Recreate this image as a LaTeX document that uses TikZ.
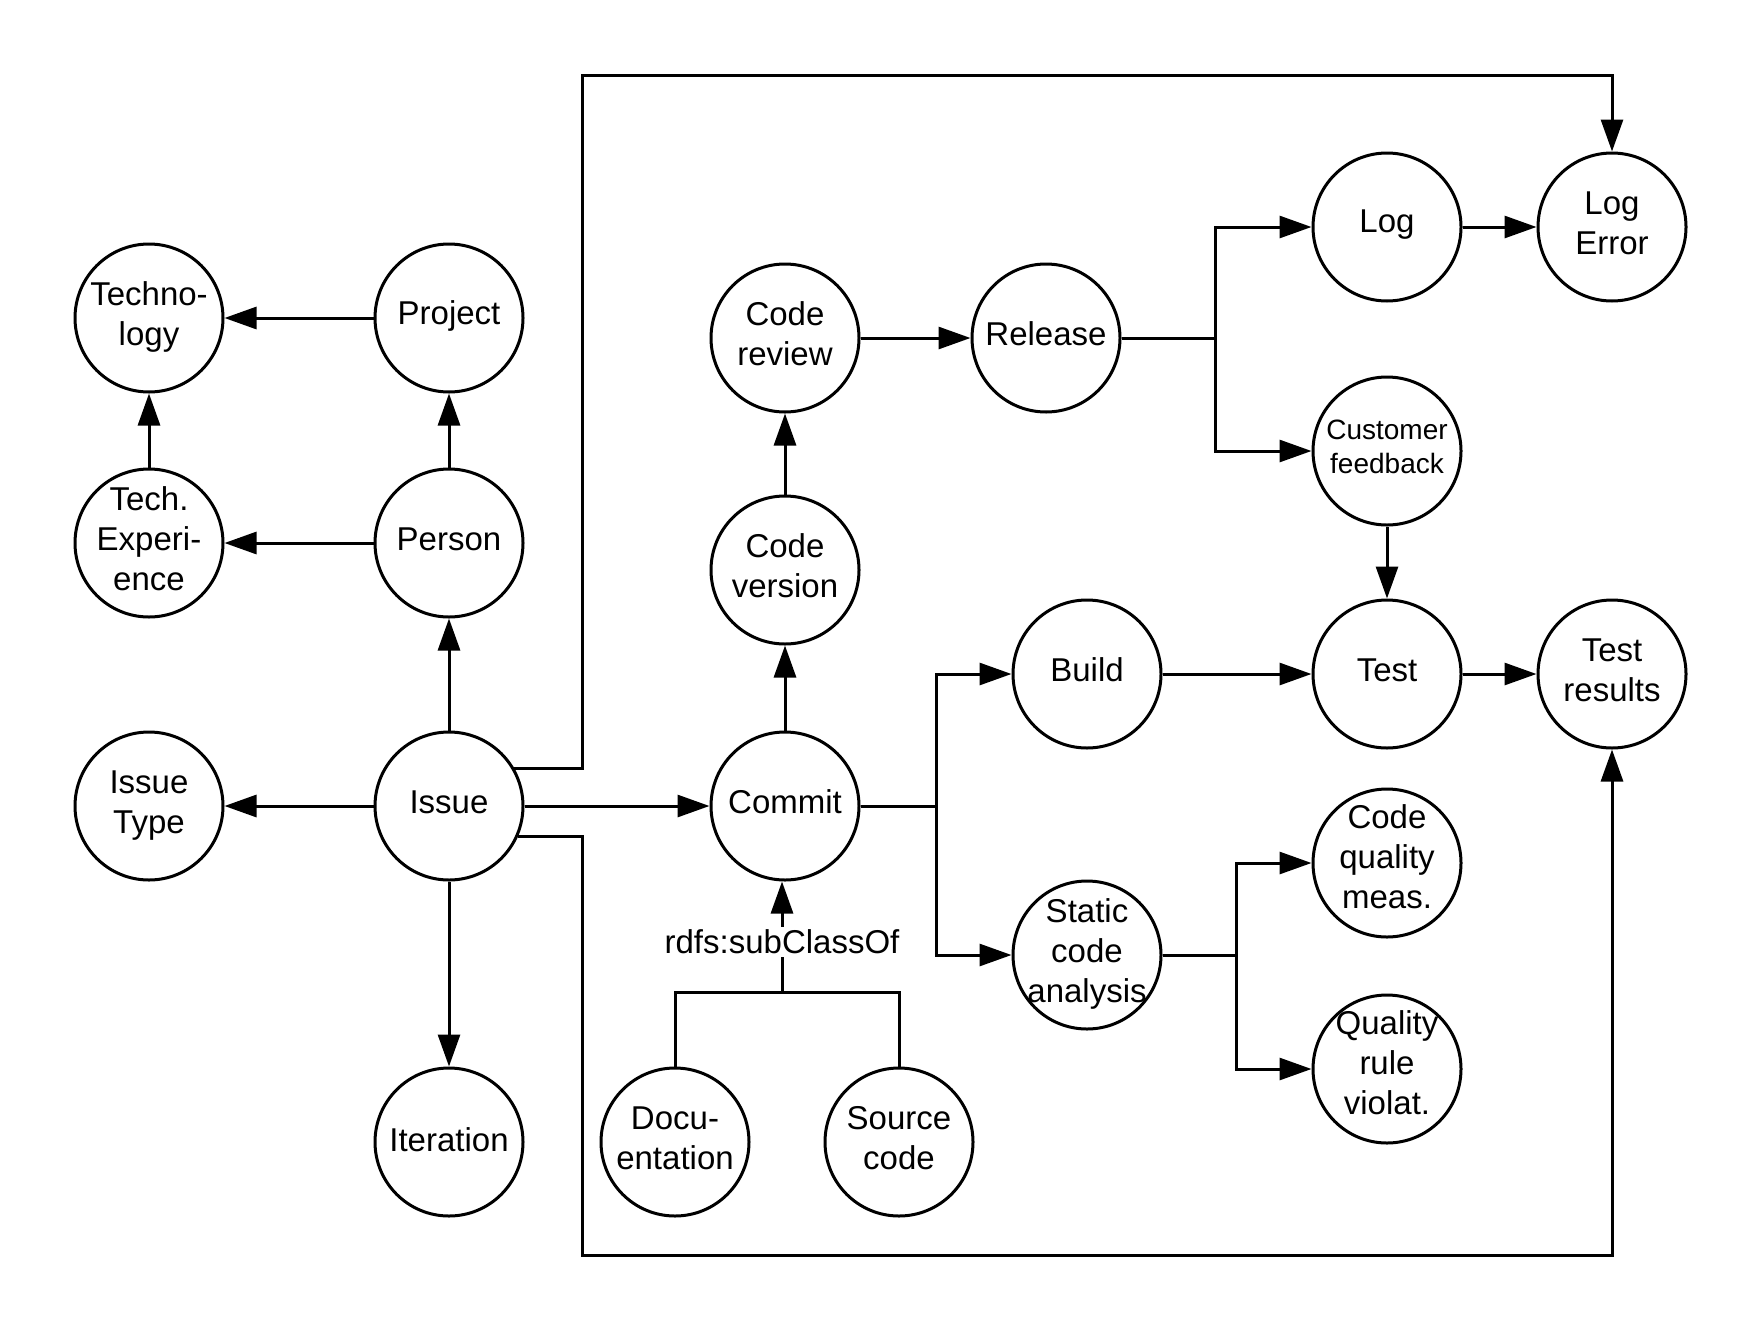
\documentclass[tikz,border=0pt]{standalone}
\usepackage{fontspec}
\setmainfont{Liberation Sans}
\usetikzlibrary{arrows.meta}
\begin{document}
\begin{tikzpicture}[x=1pt,y=-1pt,
  cnode/.style={circle,draw,line width=3pt,minimum size=148pt,inner sep=0pt},
  ltext/.style={align=center,font=\fontsize{33}{40}\selectfont,inner sep=0pt},
  ctext/.style={ltext,yshift=4pt},
  stext/.style={align=center,font=\fontsize{28}{34}\selectfont,inner sep=0pt,yshift=4pt},
  conn/.style={line width=3pt},
  arr/.style={line width=3pt,-{Triangle[length=32pt,width=22pt]}}]
\fill[white] (0,0) rectangle (1763,1333);
\useasboundingbox (0,0) rectangle (1763,1333);

% left cluster
\node[cnode,label={[ctext,yshift=-3pt]center:Techno-\\logy}] (tech) at (149,318) {};
\node[cnode,label={[ctext,yshift=-2pt]center:Project}] (proj) at (449,318) {};
\node[cnode,label={[ctext]center:Tech.\\Experi-\\ence}] (texp) at (149,543) {};
\node[cnode,label={[ctext]center:Person}] (person) at (449,543) {};
\node[cnode,label={[ctext,yshift=-4pt]center:Issue\\Type}] (itype) at (149,806) {};
\node[cnode,label={[ctext]center:Issue}] (issue) at (449,806) {};
\node[cnode,label={[ctext,yshift=-2pt]center:Iteration}] (iter) at (449,1142) {};

% middle column
\node[cnode,label={[ctext]center:Code\\review}] (crev) at (785,338) {};
\node[cnode,label={[ctext]center:Release}] (rel) at (1046,338) {};
\node[cnode,label={[ctext]center:Code\\version}] (cver) at (785,570) {};
\node[cnode,label={[ctext]center:Commit}] (commit) at (785,806) {};
\node[cnode,label={[ctext]center:Docu-\\entation}] (doc) at (675,1142) {};
\node[cnode,label={[ctext]center:Source\\code}] (src) at (899,1142) {};
\node[ltext,inner sep=3pt] (lbl) at (782,942) {rdfs:subClassOf};

% right part
\node[cnode,label={[ctext,yshift=-2pt]center:Log}] (log) at (1387,227) {};
\node[cnode,label={[ctext]center:Log\\Error}] (logerr) at (1612,227) {};
\node[cnode,label={[stext]center:Customer\\feedback}] (cf) at (1387,451) {};
\node[cnode,label={[ctext]center:Build}] (build) at (1087,674) {};
\node[cnode,label={[ctext]center:Test}] (test) at (1387,674) {};
\node[cnode,label={[ctext]center:Test\\results}] (tres) at (1612,674) {};
\node[cnode,label={[ctext,yshift=-3pt]center:Static\\code\\analysis}] (static) at (1087,955) {};
\node[cnode,label={[ctext,yshift=2pt]center:Code\\quality\\meas.}] (cq) at (1387,863) {};
\node[cnode,label={[ctext,yshift=2pt]center:Quality\\rule\\violat.}] (qr) at (1387,1069) {};

% helper coordinates
\coordinate (tl) at (582,75);
\coordinate (bl) at (582,1255);
\coordinate (rb) at (1215,338);
\coordinate (cb) at (936,806);
\coordinate (sb) at (1236,955);
\coordinate (jn) at (782,992);

% straight connectors
\draw[arr] (proj) -- (tech);
\draw[arr] (texp) -- (tech);
\draw[arr] (person) -- (proj);
\draw[arr] (person) -- (texp);
\draw[arr] (issue) -- (person);
\draw[arr] (issue) -- (itype);
\draw[arr] (issue) -- (iter);
\draw[arr] (issue) -- (commit);
\draw[arr] (commit) -- (cver);
\draw[arr] (cver) -- (crev);
\draw[arr] (crev) -- (rel);
\draw[arr] (log) -- (logerr);
\draw[arr] (cf) -- (test);
\draw[arr] (build) -- (test);
\draw[arr] (test) -- (tres);

% routed connectors
\draw[arr] (issue.30) -| (tl) -| (logerr);
\draw[arr] (issue.-24) -| (bl) -| (tres);
\draw[conn] (rel) -- (rb);
\draw[arr] (rb) |- (log);
\draw[arr] (rb) |- (cf);
\draw[conn] (commit) -- (cb);
\draw[arr] (cb) |- (build);
\draw[arr] (cb) |- (static);
\draw[conn] (static) -- (sb);
\draw[arr] (sb) |- (cq);
\draw[arr] (sb) |- (qr);

% subclass tree
\draw[conn] (doc) |- (jn) -| (src);
\draw[conn] (jn) -- (lbl);
\draw[arr] (lbl.north) -- (lbl.north |- commit.south);
\end{tikzpicture}
\end{document}
